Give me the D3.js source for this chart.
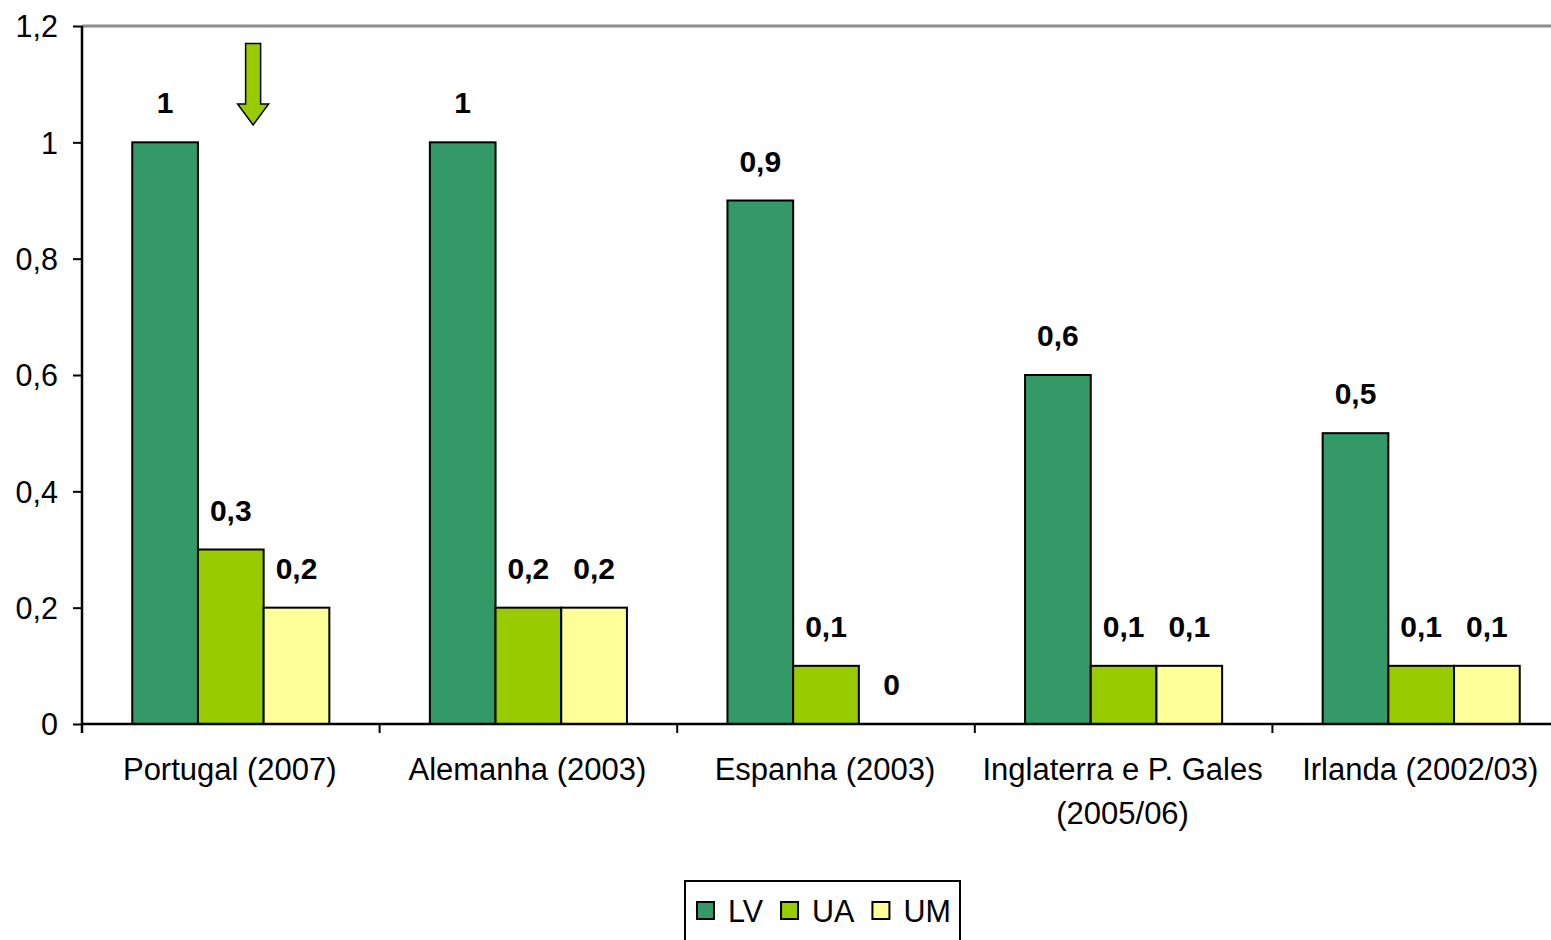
<!DOCTYPE html>
<html>
<head>
<meta charset="utf-8">
<script src="https://cdn.jsdelivr.net/npm/d3@7/dist/d3.min.js"></script>
<style>
  html, body { margin: 0; padding: 0; background: #fff; }
  svg { display: block; font-family: "Liberation Sans", Arial, sans-serif; }
</style>
</head>
<body>
<svg id="chart" width="1551" height="940"></svg>
<script>
// ---- data ----
const categories = ["Portugal (2007)", "Alemanha (2003)", "Espanha (2003)", "Inglaterra e P. Gales (2005/06)", "Irlanda (2002/03)"];
const categoryLines = [["Portugal (2007)"], ["Alemanha (2003)"], ["Espanha (2003)"], ["Inglaterra e P. Gales", "(2005/06)"], ["Irlanda (2002/03)"]];
const seriesNames = ["LV", "UA", "UM"];
const LV = [1, 1, 0.9, 0.6, 0.5];
const UA = [0.3, 0.2, 0.1, 0.1, 0.1];
const UM = [0.2, 0.2, 0, 0.1, 0.1];
const yTicks = [0, 0.2, 0.4, 0.6, 0.8, 1, 1.2];
const colors = { LV: "#339966", UA: "#99cc00", UM: "#ffff99" };

const seriesValues = { LV, UA, UM };

// ---- layout ----
const svg = d3.select("#chart");
const plotLeft = 82, bandStep = 297.6, plotTop = 26, plotBottom = 724;
const x0 = d3.scaleBand().domain(categories).range([plotLeft, plotLeft + bandStep * categories.length]).paddingInner(0).paddingOuter(0);
const x1 = d3.scaleBand().domain(seriesNames).range([0, x0.bandwidth()]).paddingInner(0).paddingOuter(0.765);
const y = d3.scaleLinear().domain([0, 1.2]).range([plotBottom, plotTop]);
const fmt = v => String(v).replace(".", ",");

// plot area top border (gray)
svg.append("line")
  .attr("x1", plotLeft).attr("x2", plotLeft + bandStep * categories.length)
  .attr("y1", y(1.2)).attr("y2", y(1.2))
  .attr("stroke", "#8c8c8c").attr("stroke-width", 3);

// bars
categories.forEach((c, i) => {
  const g = svg.append("g").attr("transform", `translate(${x0(c)},0)`);
  seriesNames.forEach(s => {
    const v = seriesValues[s][i];
    if (v > 0) {
      g.append("rect")
        .attr("x", x1(s)).attr("y", y(v))
        .attr("width", x1.bandwidth()).attr("height", y(0) - y(v))
        .attr("fill", colors[s]).attr("stroke", "#000").attr("stroke-width", 2);
    }
    g.append("text")
      .attr("x", x1(s) + x1.bandwidth() / 2).attr("y", y(v) - 29)
      .attr("text-anchor", "middle")
      .attr("font-size", 30).attr("font-weight", "bold").attr("fill", "#000")
      .text(fmt(v));
  });
});

// y axis
const yAxis = d3.axisLeft(y).tickValues(yTicks).tickFormat(fmt).tickSize(9).tickPadding(15).tickSizeOuter(0);
const ya = svg.append("g").attr("transform", `translate(${plotLeft},0)`).call(yAxis);
ya.select(".domain").attr("stroke", "#000").attr("stroke-width", 2.5)
  .attr("d", `M0,${y(1.2)}V${y(0) + 9}`);
ya.selectAll(".tick line").attr("stroke", "#000").attr("stroke-width", 2);
ya.selectAll(".tick text").attr("font-size", 30.5).attr("fill", "#000")
  .attr("font-family", "'Liberation Sans', Arial, sans-serif").attr("dy", "0.35em");

// x axis
const xa = svg.append("g");
xa.append("line").attr("x1", plotLeft).attr("x2", plotLeft + bandStep * categories.length)
  .attr("y1", y(0)).attr("y2", y(0)).attr("stroke", "#000").attr("stroke-width", 2.5);
categories.forEach((c, i) => {
  if (i > 0) {
    xa.append("line").attr("x1", x0(c)).attr("x2", x0(c))
      .attr("y1", y(0)).attr("y2", y(0) + 9).attr("stroke", "#000").attr("stroke-width", 2);
  }
  const t = xa.append("text")
    .attr("x", x0(c) + x0.bandwidth() / 2 - 1).attr("y", y(0) + 56)
    .attr("text-anchor", "middle").attr("font-size", 31).attr("fill", "#000");
  categoryLines[i].forEach((ln, k) => {
    t.append("tspan").attr("x", x0(c) + x0.bandwidth() / 2 - 1).attr("dy", k === 0 ? 0 : 44).text(ln);
  });
});

// arrow annotation pointing at Portugal
const ax = x0(categories[0]) + x0.bandwidth() * 0.575;
const arrow = [
  [ax - 7.5, y(1.17)], [ax + 7.5, y(1.17)], [ax + 7.5, y(1.066)], [ax + 15.5, y(1.066)],
  [ax, y(1.03)], [ax - 15.5, y(1.066)], [ax - 7.5, y(1.066)]
];
svg.append("path").attr("d", d3.line()(arrow) + "Z")
  .attr("fill", "#99cc00").attr("stroke", "#000").attr("stroke-width", 1.5);

// legend
const lg = svg.append("g");
lg.append("rect").attr("x", 685).attr("y", 881).attr("width", 275).attr("height", 80)
  .attr("fill", "#fff").attr("stroke", "#000").attr("stroke-width", 2);
let lx = 697;
seriesNames.forEach(s => {
  lg.append("rect").attr("x", lx).attr("y", 902).attr("width", 17).attr("height", 17)
    .attr("fill", colors[s]).attr("stroke", "#000").attr("stroke-width", 2);
  const t = lg.append("text").attr("x", lx + 31).attr("y", 922)
    .attr("font-size", 30.5).attr("fill", "#000").text(s);
  lx = lx + 31 + t.node().getComputedTextLength() + 18;
});
</script>
</body>
</html>
